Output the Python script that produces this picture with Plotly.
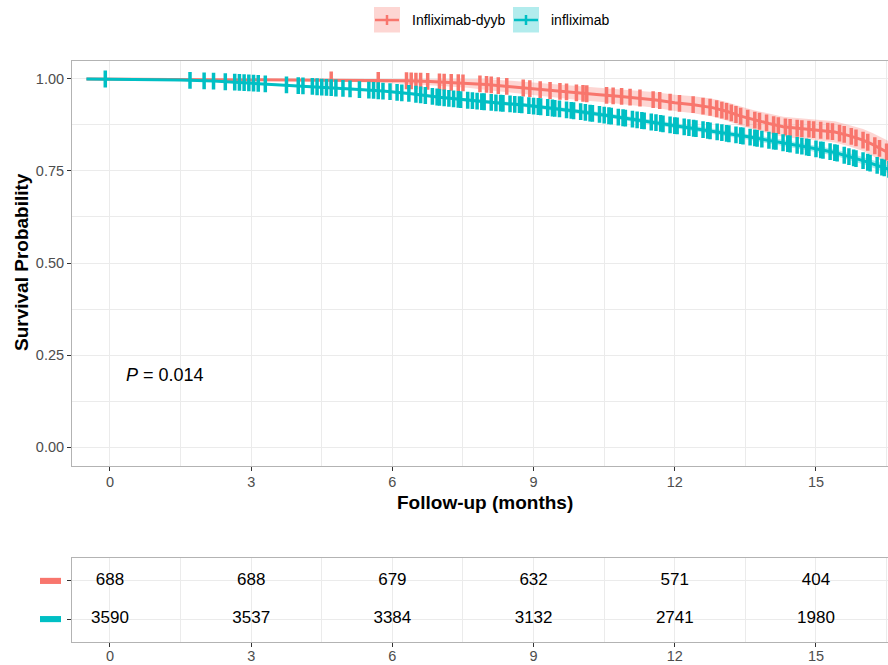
import numpy as np
import plotly.graph_objects as go

W, H = 888, 665
ML = 72  # left margin in px (right margin 0)

# ---------------- data ----------------
groups = ["Infliximab-dyyb", "infliximab"]
colors = ["#F8766D", "#00BFC4"]
band_colors = ["rgba(248,118,109,0.30)", "rgba(0,191,196,0.30)"]

red_time = [-0.5, 1.5, 3.0, 5.0, 6.3, 6.8, 7.2, 7.6, 8.0, 8.4, 8.8, 9.2, 9.6, 10.0, 10.4, 10.8, 11.2,
            11.6, 12.0, 12.4, 12.8, 13.1, 13.4, 13.7, 14.0, 14.3, 14.6, 15.0, 15.4, 15.7, 16.0, 16.2, 16.4, 16.6]
red_surv = [1.0, 0.999, 0.998, 0.997, 0.995, 0.993, 0.991, 0.989, 0.985, 0.980, 0.975, 0.970, 0.966, 0.961,
            0.957, 0.953, 0.949, 0.943, 0.935, 0.930, 0.922, 0.912, 0.899, 0.888, 0.879, 0.870, 0.866, 0.862,
            0.856, 0.846, 0.834, 0.822, 0.808, 0.795]
red_upper = [1.0, 1.0, 1.0, 1.0, 1.0, 1.0, 1.0, 1.0, 1.0, 0.996, 0.992, 0.988, 0.984, 0.980, 0.976, 0.973,
             0.969, 0.964, 0.957, 0.953, 0.946, 0.937, 0.925, 0.914, 0.906, 0.897, 0.894, 0.890, 0.885, 0.875,
             0.864, 0.853, 0.840, 0.828]
red_lower = [1.0, 0.997, 0.995, 0.992, 0.987, 0.983, 0.979, 0.976, 0.970, 0.964, 0.958, 0.952, 0.948, 0.942,
             0.938, 0.933, 0.929, 0.922, 0.913, 0.907, 0.898, 0.887, 0.873, 0.862, 0.852, 0.843, 0.838, 0.834,
             0.827, 0.817, 0.804, 0.791, 0.776, 0.762]
red_censor = [4.7, 5.7, 6.3, 6.4, 6.5, 6.6, 6.75, 7.0, 7.1, 7.25, 7.4, 7.5, 7.86, 8.0, 8.1, 8.25, 8.43, 8.78,
              8.92, 9.14, 9.35, 9.56, 9.7, 9.91, 10.05, 10.13, 10.55, 10.69, 10.87, 11.05, 11.26, 11.54, 11.68,
              11.9, 12.1, 12.39, 12.6, 12.75, 12.89, 13.0, 13.1, 13.2, 13.3, 13.4, 13.55, 13.7, 13.8, 13.95,
              14.1, 14.2, 14.35, 14.45, 14.6, 14.7, 14.85, 14.95, 15.1, 15.25, 15.35, 15.5, 15.6, 15.75,
              15.85, 16.0, 16.1, 16.25, 16.35, 16.5]

teal_time = [-0.5, 0.8, 1.5, 2.2, 2.8, 3.4, 4.0, 4.6, 5.2, 5.8, 6.4, 7.0, 7.6, 8.2, 8.8, 9.4, 10.0, 10.6,
             11.2, 11.8, 12.4, 13.0, 13.6, 14.2, 14.8, 15.4, 16.0, 16.6]
teal_surv = [1.0, 0.999, 0.997, 0.994, 0.990, 0.986, 0.982, 0.977, 0.972, 0.967, 0.960, 0.950, 0.942, 0.935,
             0.929, 0.921, 0.911, 0.900, 0.889, 0.877, 0.866, 0.854, 0.842, 0.829, 0.815, 0.800, 0.778, 0.752]
teal_upper = [1.0, 0.9995, 0.998, 0.9955, 0.992, 0.988, 0.9845, 0.980, 0.975, 0.9705, 0.964, 0.954, 0.9465,
              0.940, 0.934, 0.9265, 0.917, 0.906, 0.8955, 0.884, 0.873, 0.8615, 0.850, 0.837, 0.8235, 0.809,
              0.788, 0.763]
teal_lower = [1.0, 0.9985, 0.996, 0.9925, 0.988, 0.984, 0.9795, 0.974, 0.969, 0.9635, 0.956, 0.946, 0.9375,
              0.930, 0.924, 0.9155, 0.905, 0.894, 0.8825, 0.870, 0.859, 0.8465, 0.834, 0.821, 0.8065, 0.791,
              0.768, 0.741]
teal_censor = [-0.1, 1.7, 2.0, 2.2, 2.45, 2.65, 2.75, 2.85, 2.95, 3.05, 3.15, 3.3, 3.75, 4.0, 4.1, 4.3, 4.4,
               4.5, 4.6, 4.7, 4.8, 4.95, 5.1, 5.3, 5.5, 5.6, 5.7, 5.8, 5.95, 6.1, 6.2, 6.35, 6.5, 6.6, 6.7,
               6.85, 6.95, 7.0, 7.1, 7.2, 7.3, 7.4, 7.45, 7.6, 7.7, 7.8, 7.9, 7.95, 8.1, 8.2, 8.3, 8.35, 8.5,
               8.6, 8.7, 8.75, 8.9, 9.0, 9.1, 9.15, 9.3, 9.4, 9.45, 9.55, 9.7, 9.8, 9.85, 10.0, 10.1, 10.2,
               10.25, 10.4, 10.5, 10.6, 10.65, 10.8, 10.9, 10.95, 11.1, 11.2, 11.3, 11.35, 11.5, 11.6, 11.7,
               11.75, 11.9, 12.0, 12.05, 12.2, 12.3, 12.4, 12.45, 12.6, 12.7, 12.75, 12.9, 13.0, 13.1, 13.15,
               13.3, 13.4, 13.45, 13.6, 13.7, 13.75, 13.85, 14.0, 14.1, 14.15, 14.3, 14.4, 14.45, 14.6, 14.7,
               14.8, 14.85, 15.0, 15.1, 15.15, 15.3, 15.4, 15.45, 15.6, 15.7, 15.8, 15.85, 16.0, 16.1, 16.15,
               16.3, 16.4, 16.45, 16.55]

risk_times = [0, 3, 6, 9, 12, 15]
risk_red = [688, 688, 679, 632, 571, 404]
risk_teal = [3590, 3537, 3384, 3132, 2741, 1980]

x_ticks = [0, 3, 6, 9, 12, 15]
y_ticks = [0.0, 0.25, 0.50, 0.75, 1.00]
y_ticklabels = ["0.00", "0.25", "0.50", "0.75", "1.00"]
p_label = "<i>P</i> = 0.014"

# ---------------- layout helpers ----------------
def px_x(p):
    # 'paper' x refers to the plot area (between the margins)
    return (p - ML) / (W - ML)

def px_y(p):
    return 1 - p / H

x_range = [-0.807, 16.53]
FONT = "Liberation Sans, Arial, sans-serif"
GRID = "#EBEBEB"
BORDER = "#B3B3B3"

fig = go.Figure()

series = [
    (red_time, red_surv, red_lower, red_upper, red_censor),
    (teal_time, teal_surv, teal_lower, teal_upper, teal_censor),
]

# bands
for (t, s, lo, up, c), col, bcol in zip(series, colors, band_colors):
    fig.add_trace(go.Scatter(x=t, y=up, mode="lines", line=dict(width=0), showlegend=False,
                             hoverinfo="skip", xaxis="x", yaxis="y"))
    fig.add_trace(go.Scatter(x=t, y=lo, mode="lines", line=dict(width=0), fill="tonexty",
                             fillcolor=bcol, showlegend=False, hoverinfo="skip", xaxis="x", yaxis="y"))

# curves
for (t, s, lo, up, c), col, name in zip(series, colors, groups):
    fig.add_trace(go.Scatter(x=t, y=s, mode="lines", line=dict(color=col, width=3), name=name,
                             showlegend=False, xaxis="x", yaxis="y"))

# censor marks
for (t, s, lo, up, c), col in zip(series, colors):
    cy = np.interp(c, t, s)
    fig.add_trace(go.Scatter(x=c, y=cy, mode="markers",
                             marker=dict(symbol="line-ns", size=12, color=col,
                                         line=dict(color=col, width=3.5)),
                             showlegend=False, hoverinfo="skip", xaxis="x", yaxis="y"))

# risk table
fig.add_trace(go.Scatter(x=risk_times, y=[2] * len(risk_times), mode="text",
                         text=[str(v) for v in risk_red], textfont=dict(size=17, color="black", family=FONT),
                         showlegend=False, xaxis="x2", yaxis="y2"))
fig.add_trace(go.Scatter(x=risk_times, y=[1] * len(risk_times), mode="text",
                         text=[str(v) for v in risk_teal], textfont=dict(size=17, color="black", family=FONT),
                         showlegend=False, xaxis="x2", yaxis="y2"))

main_dom = [px_y(465.5), px_y(60.5)]
risk_dom = [px_y(642), px_y(558)]

axis_common = dict(showgrid=True, gridcolor=GRID, gridwidth=1, zeroline=False,
                   ticks="outside", ticklen=4, tickcolor="#333333", tickwidth=1,
                   tickfont=dict(size=14.5, color="#4D4D4D", family=FONT),
                   showline=True, linecolor=BORDER, linewidth=1)

fig.update_layout(
    width=W, height=H,
    margin=dict(l=ML, r=0, t=0, b=0, autoexpand=False),
    paper_bgcolor="white", plot_bgcolor="white",
    showlegend=False,
    xaxis=dict(domain=[0, 1], range=x_range, tickvals=x_ticks, mirror=True, anchor="y",
               ticklabelstandoff=-1,
               minor=dict(dtick=1.5, tick0=1.5, showgrid=True, gridcolor=GRID, gridwidth=0.6, ticks=""),
               **axis_common),
    yaxis=dict(domain=main_dom, range=[-0.05, 1.05], tickvals=y_ticks, ticktext=y_ticklabels,
               anchor="x", mirror=False,
               minor=dict(dtick=0.125, tick0=0.125, showgrid=True, gridcolor=GRID, gridwidth=0.6, ticks=""),
               **axis_common),
    xaxis2=dict(domain=[0, 1], range=x_range, tickvals=x_ticks, mirror=True, anchor="y2",
                ticklabelstandoff=-3,
                minor=dict(dtick=1.5, tick0=1.5, showgrid=True, gridcolor=GRID, gridwidth=0.6, ticks=""),
                **axis_common),
    yaxis2=dict(domain=risk_dom, range=[0.4, 2.6], tickvals=[1, 2], ticktext=["", ""],
                anchor="x2", mirror=False, **axis_common),
)

# titles
fig.add_annotation(text="<b>Follow-up (months)</b>", xref="paper", yref="paper",
                   x=px_x(485), y=px_y(502), xanchor="center", yanchor="middle", showarrow=False,
                   font=dict(size=19, color="black", family=FONT))
fig.add_annotation(text="<b>Survival Probability</b>", xref="paper", yref="paper",
                   x=px_x(22), y=px_y(262), xanchor="center", yanchor="middle", showarrow=False,
                   textangle=-90, font=dict(size=19, color="black", family=FONT))
fig.add_annotation(text=p_label, xref="x", yref="y", x=0.3, y=0.196, xanchor="left",
                   yanchor="middle", showarrow=False, font=dict(size=18, color="black", family=FONT))

# top legend (manual)
leg_items = [(374, 400, 410), (513, 539, 549)]
for (x0, x1, tx), col, bcol, name in zip(leg_items, colors, band_colors, groups):
    fig.add_shape(type="rect", xref="paper", yref="paper", x0=px_x(x0), x1=px_x(x1),
                  y0=px_y(32.5), y1=px_y(7), fillcolor=bcol, line=dict(width=0), layer="above")
    fig.add_shape(type="line", xref="paper", yref="paper", x0=px_x(x0 + 1), x1=px_x(x1 - 1),
                  y0=px_y(20), y1=px_y(20), line=dict(color=col, width=2.5), layer="above")
    xm = (x0 + x1) / 2
    fig.add_shape(type="line", xref="paper", yref="paper", x0=px_x(xm), x1=px_x(xm),
                  y0=px_y(15), y1=px_y(25), line=dict(color=col, width=2.5), layer="above")
    fig.add_annotation(text=name, xref="paper", yref="paper", x=px_x(tx), y=px_y(20),
                       xanchor="left", yanchor="middle", showarrow=False,
                       font=dict(size=14, color="black", family=FONT))

# risk table legend keys
for col, row in zip(colors, [2, 1]):
    fig.add_shape(type="rect", xref="paper", yref="y2", x0=px_x(40), x1=px_x(61),
                  y0=row - 0.08, y1=row + 0.08, fillcolor=col, line=dict(width=0))

fig.write_html("out.html", config={"displayModeBar": False},
               post_script="document.body.style.margin='0';document.body.style.overflow='hidden';")
